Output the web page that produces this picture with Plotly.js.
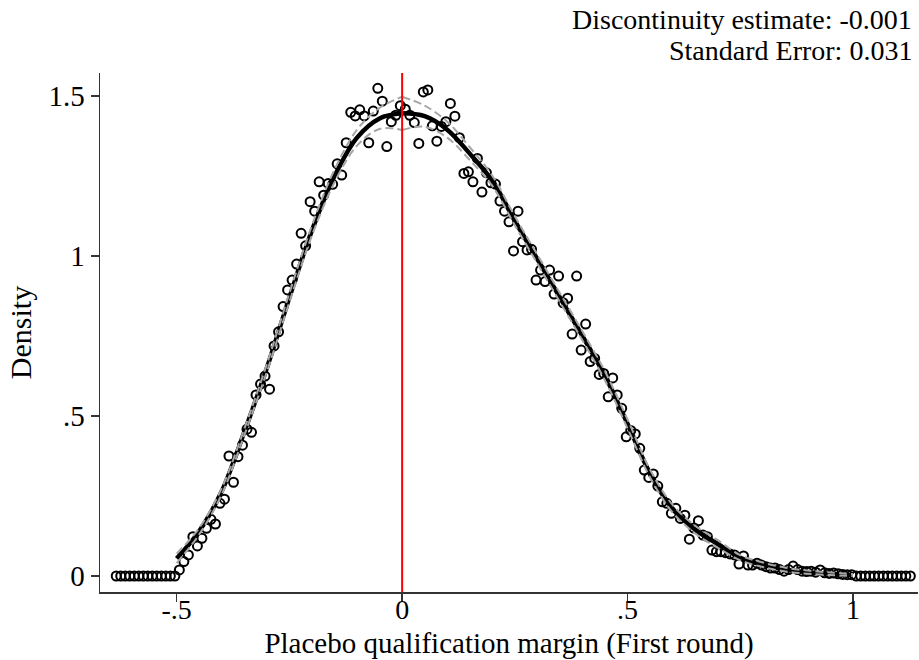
<!DOCTYPE html>
<html>
<head>
<meta charset="utf-8">
<script src="https://cdn.plot.ly/plotly-3.0.1.min.js"></script>
<style>html,body{margin:0;padding:0;background:#fff;}#chart{width:919px;height:660px;}</style>
</head>
<body>
<div id="chart"></div>
<script>
// Binned density (left of cutoff)
const binLeftX = [-0.004,-0.014,-0.024,-0.034,-0.044,-0.054,-0.064,-0.074,-0.084,-0.094,
  -0.104,-0.114,-0.124,-0.134,-0.144,-0.154,-0.164,-0.174,-0.184,-0.194,
  -0.204,-0.214,-0.224,-0.234,-0.244,-0.254,-0.264,-0.274,-0.284,-0.294,
  -0.304,-0.314,-0.324,-0.334,-0.344,-0.354,-0.364,-0.374,-0.384,-0.394,
  -0.404,-0.414,-0.424,-0.434,-0.444,-0.454,-0.464,-0.474,-0.484,-0.494,
  -0.504,-0.514,-0.524,-0.534,-0.544,-0.554,-0.564,-0.574,-0.584,-0.594,
  -0.604,-0.614,-0.624,-0.634];
const binLeftY = [1.47,1.44,1.42,1.342,1.484,1.524,1.453,1.354,1.438,1.457,
  1.438,1.449,1.354,1.253,1.288,1.224,1.227,1.19,1.232,1.14,
  1.17,1.032,1.071,0.975,0.925,0.894,0.842,0.763,0.719,0.584,
  0.625,0.6,0.566,0.449,0.459,0.409,0.373,0.293,0.375,0.24,
  0.227,0.1625,0.177,0.149,0.118,0.094,0.123,0.066,0.045,0.019,
  0,0,0,0,0,0,0,0,0,0,
  0,0,0,0];
// Binned density (right of cutoff)
const binRightX = [0.007,0.017,0.027,0.037,0.047,0.057,0.067,0.077,0.087,0.097,
  0.107,0.117,0.127,0.137,0.147,0.157,0.167,0.177,0.187,0.197,
  0.207,0.217,0.227,0.237,0.247,0.257,0.267,0.277,0.287,0.297,
  0.307,0.317,0.327,0.337,0.347,0.357,0.367,0.377,0.387,0.397,
  0.407,0.417,0.427,0.437,0.447,0.457,0.467,0.477,0.487,0.497,
  0.507,0.517,0.527,0.537,0.547,0.557,0.567,0.577,0.587,0.597,
  0.607,0.617,0.627,0.637,0.647,0.657,0.667,0.677,0.687,0.697,
  0.707,0.717,0.727,0.737,0.747,0.757,0.767,0.777,0.787,0.797,
  0.807,0.817,0.827,0.837,0.847,0.857,0.867,0.877,0.887,0.897,
  0.907,0.917,0.927,0.937,0.947,0.957,0.967,0.977,0.987,0.997,
  1.007,1.017,1.027,1.037,1.047,1.057,1.067,1.077,1.087,1.097,
  1.107,1.117,1.127];
const binRightY = [1.459,1.44,1.417,1.352,1.513,1.519,1.407,1.359,1.405,1.42,
  1.477,1.437,1.37,1.258,1.263,1.232,1.305,1.2,1.26,1.229,
  1.225,1.172,1.14,1.107,1.016,1.14,1.045,1.019,1.021,0.925,
  0.956,0.92,0.956,0.881,0.9375,0.854,0.868,0.756,0.9375,0.706,
  0.7875,0.67,0.68,0.63,0.633,0.56,0.619,0.566,0.524,0.435,
  0.455,0.444,0.399,0.331,0.308,0.319,0.281,0.232,0.227,0.196,
  0.2115,0.18,0.19,0.115,0.15,0.173,0.128,0.123,0.081,0.076,
  0.076,0.073,0.069,0.066,0.0375,0.0625,0.034,0.034,0.04,0.034,
  0.029,0.025,0.025,0.02,0.015,0.02,0.031,0.02,0.015,0.014,
  0.015,0.012,0.019,0.01,0.008,0.009,0.007,0.005,0.004,0.004,
  0,0,0,0,0,0,0,0,0,0,
  0,0,0];
// Fitted density and confidence bands, left of cutoff
const fitLeftX = [-0.5,-0.45,-0.4,-0.35,-0.3,-0.25,-0.2,-0.15,-0.1,-0.05,0];
const fitLeftY = [0.055,0.14,0.265,0.45,0.65,0.87,1.08,1.25,1.37,1.43,1.446];
const ciLeftLo = [0.04,0.13,0.255,0.44,0.638,0.856,1.064,1.23,1.345,1.397,1.394];
const ciLeftHi = [0.07,0.15,0.275,0.46,0.662,0.884,1.096,1.27,1.395,1.463,1.498];
// Fitted density and confidence bands, right of cutoff
const fitRightX = [0,0.05,0.1,0.15,0.2,0.25,0.3,0.35,0.4,0.45,0.5,0.55,0.6,0.65,0.7,0.75,0.8,0.85,0.9,0.95,1.0];
const fitRightY = [1.446,1.437,1.395,1.32,1.235,1.11,0.99,0.87,0.75,0.625,0.475,0.32,0.21,0.145,0.1,0.057,0.035,0.02,0.012,0.007,0.003];
const ciRightLo = [1.394,1.404,1.37,1.30,1.219,1.096,0.976,0.856,0.736,0.611,0.461,0.308,0.198,0.133,0.088,0.049,0.028,0.014,0.007,0.003,0.0];
const ciRightHi = [1.498,1.47,1.42,1.34,1.251,1.124,1.004,0.884,0.764,0.639,0.489,0.332,0.222,0.157,0.112,0.065,0.042,0.026,0.017,0.011,0.006];

const xTickVals = [-0.5,0,0.5,1];
const xTickText = ['-.5','0','.5','1'];
const yTickVals = [0,0.5,1,1.5];
const yTickText = ['0','.5','1','1.5'];

const FONT = 'Liberation Serif, Times New Roman, serif';
const ciStyle = {color:'#a6a6a6', width:2, dash:'8px,4px'};
const fitStyle = {color:'#000', width:4.5, shape:'spline'};

const traces = [
  {x:binLeftX.concat(binRightX), y:binLeftY.concat(binRightY), mode:'markers', type:'scatter',
   marker:{symbol:'circle-open', size:9, color:'#000', line:{width:2, color:'#000'}}, hoverinfo:'skip'},
  {x:fitLeftX, y:fitLeftY, mode:'lines', line:fitStyle},
  {x:fitRightX, y:fitRightY, mode:'lines', line:fitStyle},
  {x:fitLeftX, y:ciLeftLo, mode:'lines', line:Object.assign({shape:'spline'}, ciStyle)},
  {x:fitLeftX, y:ciLeftHi, mode:'lines', line:Object.assign({shape:'spline'}, ciStyle)},
  {x:fitRightX, y:ciRightLo, mode:'lines', line:Object.assign({shape:'spline'}, ciStyle)},
  {x:fitRightX, y:ciRightHi, mode:'lines', line:Object.assign({shape:'spline'}, ciStyle)}
];

const layout = {
  width:919, height:660,
  margin:{l:100, r:1, t:73, b:68, pad:0},
  paper_bgcolor:'#fff', plot_bgcolor:'#fff',
  showlegend:false,
  font:{family:FONT, color:'#000', size:29},
  xaxis:{range:[-0.67,1.144], showgrid:false, zeroline:false, showline:true, linecolor:'#333', linewidth:1.5,
    ticks:'outside', ticklen:8, tickwidth:1.3, tickcolor:'#333', ticklabelstandoff:-16,
    tickvals:xTickVals, ticktext:xTickText, tickfont:{size:28, family:FONT},
    title:{text:'Placebo qualification margin (First round)', font:{size:29, family:FONT}, standoff:15}},
  yaxis:{range:[-0.05,1.572], showgrid:false, zeroline:false, showline:true, linecolor:'#333', linewidth:1.5,
    ticks:'outside', ticklen:8, tickwidth:1.3, tickcolor:'#333',
    tickvals:yTickVals, ticktext:yTickText, tickfont:{size:29, family:FONT},
    title:{text:'Density', font:{size:30, family:FONT}, standoff:8}},
  shapes:[{type:'line', xref:'x', yref:'paper', x0:0, x1:0, y0:0, y1:1, line:{color:'#ff0000', width:2}, layer:'above'}],
  annotations:[
    {xref:'paper', yref:'paper', x:1, y:1, xanchor:'right', yanchor:'middle', yshift:54, xshift:-4, showarrow:false,
     text:'Discontinuity estimate: -0.001', font:{size:28, family:FONT}},
    {xref:'paper', yref:'paper', x:1, y:1, xanchor:'right', yanchor:'middle', yshift:23, xshift:-4, showarrow:false,
     text:'Standard Error: 0.031', font:{size:28, family:FONT}}
  ]
};

Plotly.newPlot('chart', traces, layout, {displayModeBar:false, staticPlot:true});
</script>
</body>
</html>
